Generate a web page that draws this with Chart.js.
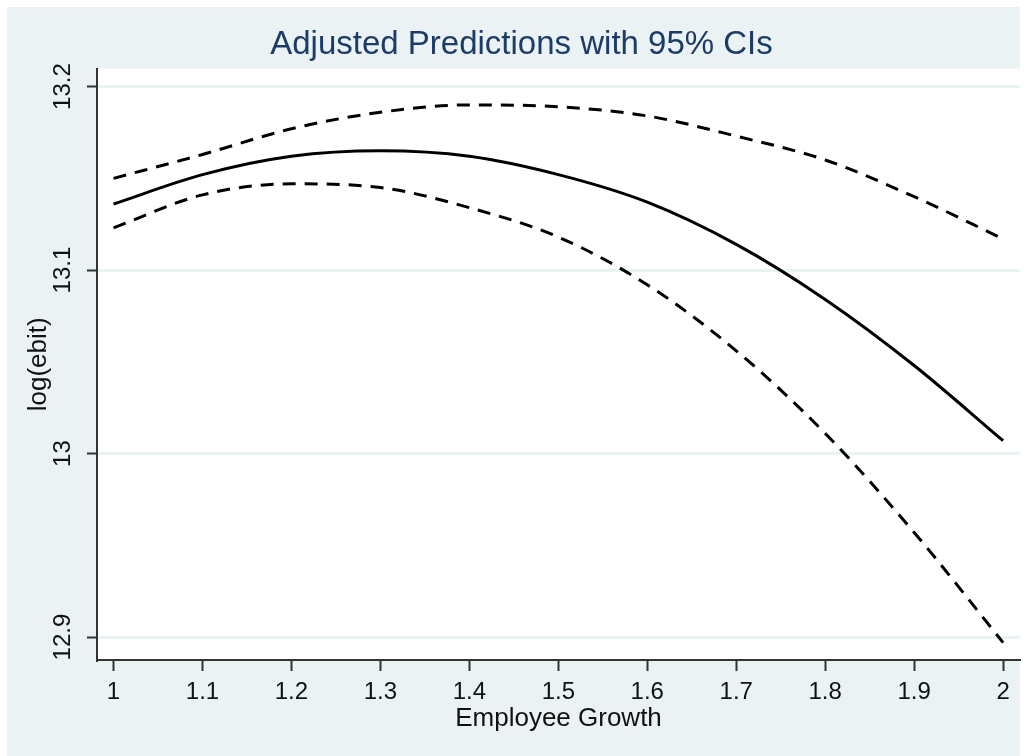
<!DOCTYPE html>
<html>
<head>
<meta charset="utf-8">
<script src="https://cdn.jsdelivr.net/npm/chart.js@4"></script>
<style>
  html, body { margin: 0; padding: 0; background: #ffffff; }
  #wrap { width: 1028px; height: 756px; }
</style>
</head>
<body>
<div id="wrap"><canvas id="chart"></canvas></div>
<script>
// valores (margins do Stata)
const xValues = [1, 1.1, 1.2, 1.3, 1.4, 1.5, 1.6, 1.7, 1.8, 1.9, 2];
const predicted = [13.136, 13.152, 13.162, 13.165, 13.162, 13.152, 13.137, 13.114, 13.084, 13.048, 13.007];
const upperCI = [13.150, 13.163, 13.177, 13.186, 13.190, 13.189, 13.184, 13.173, 13.160, 13.140, 13.117];
const lowerCI = [13.123, 13.141, 13.147, 13.145, 13.134, 13.118, 13.092, 13.056, 13.011, 12.957, 12.897];
const xTicks = [1, 1.1, 1.2, 1.3, 1.4, 1.5, 1.6, 1.7, 1.8, 1.9, 2];
const yTicks = [12.9, 13, 13.1, 13.2];

const bgStata = '#eaf2f3';
const axisDark = '#333333';
const fontFam = '"Liberation Sans", Arial, sans-serif';

const toPoints = (ys) => xValues.map((x, i) => ({ x: x, y: ys[i] }));

// fundo azul claro + área do gráfico branca
const stataBackground = {
    id: 'stataBackground',
    beforeDraw(chart) {
        const { ctx, chartArea } = chart;
        ctx.save();
        ctx.fillStyle = '#ffffff';
        ctx.fillRect(0, 0, chart.width, chart.height);
        ctx.fillStyle = bgStata;
        ctx.fillRect(7, 7, 1013, chart.height - 7);
        ctx.fillStyle = '#ffffff';
        ctx.fillRect(chartArea.left, chartArea.top, chartArea.right - chartArea.left, chartArea.bottom - chartArea.top);
        ctx.restore();
    }
};

const lineStyle = {
    borderColor: '#000000',
    borderWidth: 3,
    pointRadius: 0,
    fill: false,
    cubicInterpolationMode: 'monotone'
};

new Chart(document.getElementById('chart'), {
    type: 'line',
    data: {
        datasets: [
            { label: 'Upper', data: toPoints(upperCI), ...lineStyle, borderDash: [13, 9] },
            { label: 'Predicted', data: toPoints(predicted), ...lineStyle },
            { label: 'Lower', data: toPoints(lowerCI), ...lineStyle, borderDash: [13, 9] }
        ]
    },
    options: {
        responsive: true,
        maintainAspectRatio: false,
        animation: false,
        // left maior para o título ficar centrado como no original
        layout: { padding: { left: 23, top: 7, right: 8, bottom: 0 } },
        plugins: {
            legend: { display: false },
            tooltip: { enabled: false },
            title: {
                display: true,
                text: 'Adjusted Predictions with 95% CIs',
                color: '#1c3b66',
                font: { family: fontFam, size: 33, weight: 'normal' },
                padding: { top: 18, bottom: 4 }
            }
        },
        scales: {
            x: {
                type: 'linear',
                min: 0.9814,
                max: 2.019,
                afterBuildTicks: (scale) => { scale.ticks = xTicks.map(v => ({ value: v })); },
                afterFit: (scale) => { scale.height = 96; },
                grid: { drawOnChartArea: false, tickLength: 11, tickColor: axisDark, tickWidth: 2 },
                border: { color: axisDark, width: 2 },
                ticks: {
                    color: '#111111',
                    padding: 7,
                    maxRotation: 0,
                    font: { family: fontFam, size: 24 },
                    callback: (v) => String(+v.toFixed(1))
                },
                title: {
                    display: true,
                    text: 'Employee Growth',
                    color: '#111111',
                    font: { family: fontFam, size: 26 },
                    padding: { top: 0, bottom: 22 }
                }
            },
            y: {
                type: 'linear',
                min: 12.8875,
                max: 13.2098,
                afterBuildTicks: (scale) => { scale.ticks = yTicks.map(v => ({ value: v })); },
                afterFit: (scale) => { scale.width = 74; },
                grid: { color: bgStata, lineWidth: 3, tickLength: 10, tickColor: axisDark, tickWidth: 2 },
                border: { color: axisDark, width: 2 },
                ticks: {
                    color: '#111111',
                    padding: 0,
                    minRotation: 90,
                    maxRotation: 90,
                    crossAlign: 'center',
                    font: { family: fontFam, size: 24 },
                    callback: (v) => String(+v.toFixed(1))
                },
                title: {
                    display: true,
                    text: 'log(ebit)',
                    color: '#111111',
                    font: { family: fontFam, size: 26 },
                    padding: { top: 0, bottom: 0 }
                }
            }
        }
    },
    plugins: [stataBackground]
});
</script>
</body>
</html>
